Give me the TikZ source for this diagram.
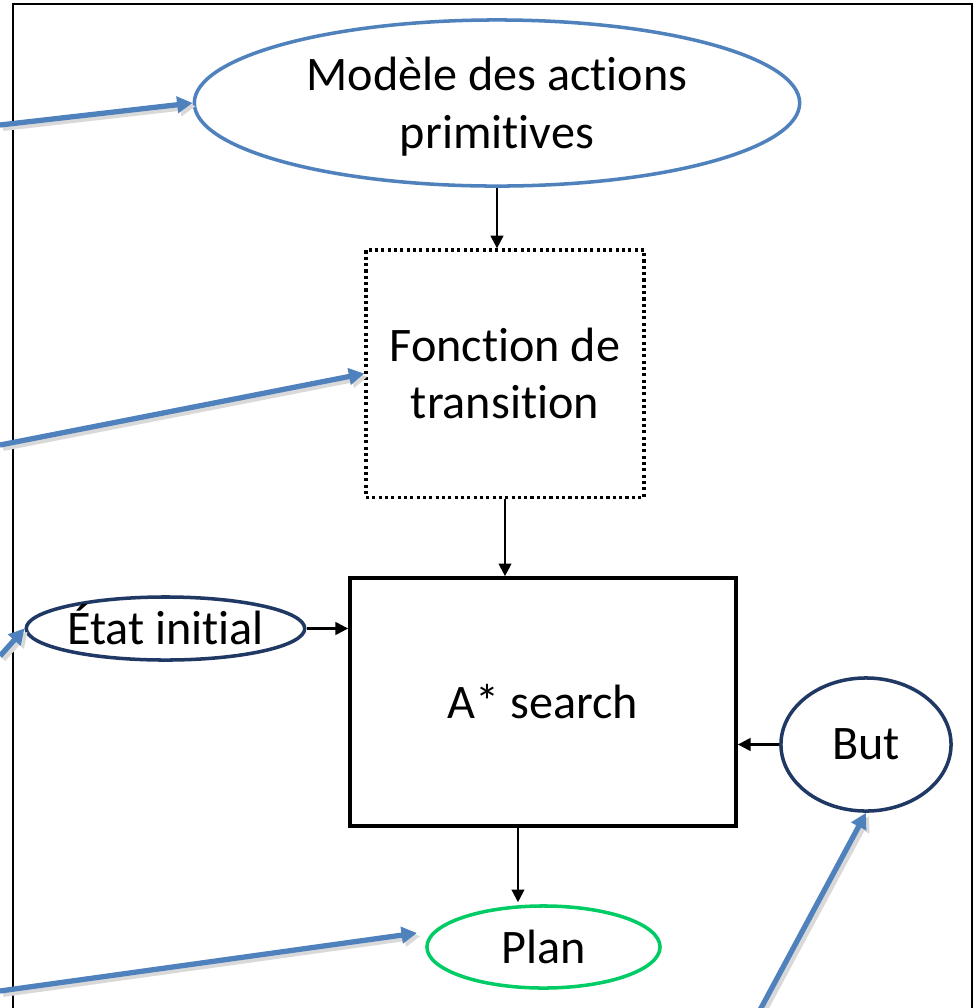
\documentclass[tikz,border=0pt]{standalone}
\usepackage{fontspec}
\setmainfont[Ligatures=NoCommon]{Carlito}
\usetikzlibrary{arrows.meta,shapes.geometric}
\definecolor{lblue}{RGB}{79,129,189}
\definecolor{navy}{RGB}{31,56,100}
\definecolor{lgreen}{RGB}{0,204,102}
\tikzset{
  lbl/.style={font=\fontsize{13.7}{16.2}\selectfont, align=center, text=black},
  oval/.style={ellipse, draw, line width=1pt, inner sep=0pt, lbl},
  flow/.style={draw=black, line width=0.6pt, -{Triangle[length=3.6pt,width=3.6pt]}},
  blue arrow/.style={draw=lblue, line width=1.5pt, -{Triangle[length=4.4pt,width=4.6pt]}},
  blue shadow/.style={draw=black!15, line width=1.6pt, -{Triangle[length=4.4pt,width=4.6pt]}},
}
\begin{document}
\begin{tikzpicture}[x=0.01cm, y=-0.01cm]
\clip (0,0) rectangle (976,1008);
\fill[white] (0,0) rectangle (976,1008);
% outer frame
\draw[line width=0.75pt, black] (13,4) rectangle (972,1030);

% nodes
\node[oval, draw=lblue, minimum width=6.05cm, minimum height=1.66cm] (m) at (497,103) {\raisebox{-0.05cm}[\height][\depth]{\begin{tabular}{@{}c@{}}Modèle des actions\\[0.5pt]primitives\end{tabular}}};
\node[draw=black, line width=0.9pt, dash pattern=on 0.9pt off 0.9pt, minimum width=2.78cm, minimum height=2.47cm, inner sep=0pt, lbl] (f) at (505,373.5) {Fonction de\\transition};
\node[draw=black, line width=1pt, minimum width=3.86cm, minimum height=2.48cm, inner sep=0pt, lbl] (a) at (543,702) {A* search};
\node[oval, draw=navy, minimum width=2.75cm, minimum height=0.63cm] (e) at (165.5,628.5) {\raisebox{0.035cm}[\height][\depth]{État initial}};
\node[oval, draw=navy, minimum width=1.70cm, minimum height=1.33cm] (b) at (866,744.5) {But};
\node[oval, draw=lgreen, minimum width=2.33cm, minimum height=0.82cm] (pl) at (543.5,947) {Plan};

% black flow arrows
\draw[flow] (m.south) -- (m.south |- f.north);
\draw[flow] (f.south) -- (f.south |- a.north);
\draw[flow] (e.east) -- (e.east -| a.west);
\draw[flow] (b.west) -- (b.west -| a.east);
\draw[flow] ([xshift=-0.25cm]a.south) -- ([xshift=-0.25cm,yshift=0.02cm]a.south |- pl.north);

% free ends of the blue arrows
\coordinate (c1) at (0,125);
\coordinate (c2) at (0,445);
\coordinate (c3) at (0,656);
\coordinate (c4) at (0,991);
\coordinate (c5) at (760,1010);
\coordinate (p4) at (417,933);

% shadows
\begin{scope}[transform canvas={xshift=0.9pt,yshift=-0.9pt}]
\draw[blue shadow] (c1) -- (m.west);
\draw[blue shadow] (c2) -- (f.west);
\draw[blue shadow] (c3) -- (e.west);
\draw[blue shadow] (c4) -- (p4);
\draw[blue shadow] (c5) -- (b.south);
\end{scope}

% blue arrows
\draw[blue arrow] (c1) -- (m.west);
\draw[blue arrow] (c2) -- (f.west);
\draw[blue arrow] (c3) -- (e.west);
\draw[blue arrow] (c4) -- (p4);
\draw[blue arrow] (c5) -- (b.south);
\end{tikzpicture}
\end{document}
